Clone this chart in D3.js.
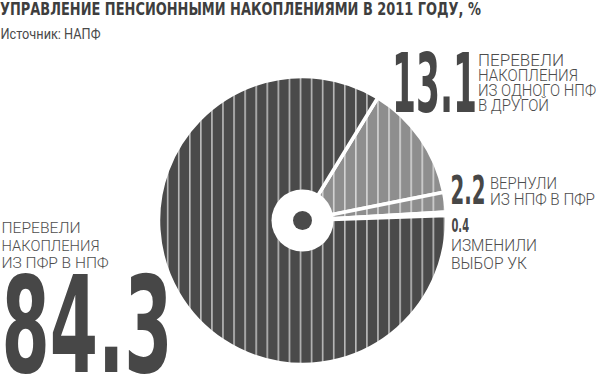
<!DOCTYPE html>
<html><head><meta charset="utf-8">
<script src="https://cdn.jsdelivr.net/npm/d3@7"></script>
<style>body{margin:0;background:#fff}</style>
</head><body><svg id="c" width="600" height="375"></svg>
<script>
const title = "УПРАВЛЕНИЕ ПЕНСИОННЫМИ НАКОПЛЕНИЯМИ В 2011 ГОДУ, %";
const source = "Источник: НАПФ";
const categories = ["Из одного НПФ в другой", "Из НПФ в ПФР", "Изменили выбор УК", "Из ПФР в НПФ"];
const values = [13.1, 2.2, 0.4, 84.3];
const valueLabels = ["13.1", "2.2", "0.4", "84.3"];
const labelLines = [
  ["ПЕРЕВЕЛИ", "НАКОПЛЕНИЯ", "ИЗ ОДНОГО НПФ", "В ДРУГОЙ"],
  ["ВЕРНУЛИ", "ИЗ НПФ В ПФР"],
  ["ИЗМЕНИЛИ", "ВЫБОР УК"],
  ["ПЕРЕВЕЛИ", "НАКОПЛЕНИЯ", "ИЗ ПФР В НПФ"]
];
const sliceTone = ["light", "light", "light", "dark"];

const svg = d3.select("#c");
const cx = 302.5, cy = 220.5, R = 144;
const condensed = "'Liberation Sans Narrow','DejaVu Sans Condensed','Liberation Sans',sans-serif";
const light = "Roboto,'Open Sans',sans-serif";
const ink = "#474747";

// patterns
const defs = svg.append("defs");
const tones = {dark: "#4a4a4a", light: "#8e8e8e"};
Object.entries(tones).forEach(([k, col]) => {
  const p = defs.append("pattern").attr("id", "p-" + k)
    .attr("patternUnits", "userSpaceOnUse")
    .attr("x", 9 - 0.75).attr("y", 0).attr("width", 11.07).attr("height", 10);
  p.append("rect").attr("width", 11.07).attr("height", 10).attr("fill", col);
  p.append("rect").attr("x", 0).attr("width", 1.6).attr("height", 10)
    .attr("fill", "#fff").attr("fill-opacity", 0.62);
});

// pie
const a0 = 31.5 * Math.PI / 180;
const pie = d3.pie().sort(null).value(d => d).startAngle(a0).endAngle(a0 + 2 * Math.PI);
const arcs = pie(values);
const arc = d3.arc().innerRadius(0).outerRadius(R);
const g = svg.append("g").attr("transform", `translate(${cx},${cy})`);
g.selectAll("path").data(arcs).join("path")
  .attr("d", arc)
  .attr("fill", (d, i) => `url(#p-${sliceTone[i]})`)
  .attr("stroke", "#fff").attr("stroke-width", 3.5).attr("stroke-linejoin", "round");
g.append("circle").attr("r", 31).attr("fill", "#fff");
g.append("circle").attr("r", 9.5).attr("fill", "#4a4a4a");

// title
svg.append("text").attr("x", 0).attr("y", 14.5)
  .attr("font-family", condensed).attr("font-weight", "bold").attr("font-size", 17.5)
  .attr("fill", "#3e3e3e").attr("textLength", 481).attr("lengthAdjust", "spacingAndGlyphs")
  .text(title);
svg.append("text").attr("x", 0.5).attr("y", 38.5)
  .attr("font-family", light).attr("font-size", 14).attr("fill", "#4a4a4a")
  .attr("textLength", 100).attr("lengthAdjust", "spacingAndGlyphs")
  .text(source);

// labels layout
const layout = [
  {nx: 392, ny: 112, nf: 82, nw: 85, lx: 478, ly: [66, 81, 96, 111], lf: 17, lw: [86, 100, 118, 71]},
  {nx: 450.5, ny: 203.5, nf: 39, nw: 35, lx: 490, ly: [188.5, 205], lf: 16.5, lw: [67, 105]},
  {nx: 451.5, ny: 232, nf: 19.5, nw: 17.5, lx: 451, ly: [251, 268.5], lf: 16.5, lw: [86, 76]},
  {nx: 1.5, ny: 372, nf: 134, nw: 171, lx: 1.5, ly: [233, 250.5, 268], lf: 15.5, lw: [79, 98, 107]}
];
layout.forEach((L, i) => {
  svg.append("text").attr("x", L.nx).attr("y", L.ny)
    .attr("font-family", condensed).attr("font-weight", "bold").attr("font-size", L.nf)
    .attr("fill", ink).attr("textLength", L.nw).attr("lengthAdjust", "spacingAndGlyphs")
    .text(valueLabels[i]);
  labelLines[i].forEach((t, j) => {
    svg.append("text").attr("x", L.lx).attr("y", L.ly[j])
      .attr("font-family", light).attr("font-weight", 300).attr("font-size", L.lf)
      .attr("fill", "#4d4d4d")
      .attr("textLength", L.lw[j]).attr("lengthAdjust", "spacingAndGlyphs")
      .text(t);
  });
});
</script></body></html>
